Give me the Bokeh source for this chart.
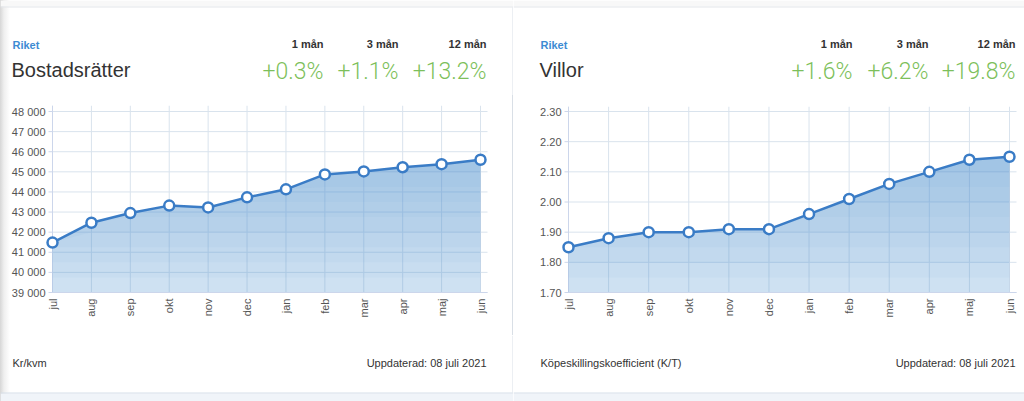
import math
import numpy as np
from bokeh.plotting import figure
from bokeh.layouts import row, column
from bokeh.models import Range1d, FixedTicker
from bokeh.embed import file_html
from bokeh.resources import INLINE
from bokeh.core.properties import value

# ---------------- data ----------------
months = ["jul", "aug", "sep", "okt", "nov", "dec", "jan", "feb", "mar", "apr", "maj", "jun"]
brf_values = [41480, 42470, 42950, 43320, 43230, 43730, 44130, 44870, 45020, 45230, 45380, 45600]
villa_values = [1.85, 1.88, 1.90, 1.90, 1.91, 1.91, 1.96, 2.01, 2.06, 2.10, 2.14, 2.15]
brf_ticks = [39000, 40000, 41000, 42000, 43000, 44000, 45000, 46000, 47000, 48000]
villa_ticks = [1.70, 1.80, 1.90, 2.00, 2.10, 2.20, 2.30]
periods = ["1 mån", "3 mån", "12 mån"]
brf_changes = ["+0.3%", "+1.1%", "+13.2%"]
villa_changes = ["+1.6%", "+6.2%", "+19.8%"]
region = "Riket"
brf_title = "Bostadsrätter"
villa_title = "Villor"
brf_unit = "Kr/kvm"
villa_unit = "Köpeskillingskoefficient (K/T)"
updated = "Uppdaterad: 08 juli 2021"

FONT = "Liberation Sans"
BIG_FONT = "Roboto Light, Liberation Sans"
LINE = "#3a7cc6"
FILL = "#4a8fd0"
GRID = "#d9e3ed"
AXC = "#ccd6eb"
TXT = "#333333"
DIV = "#d9dfe6"
LEFT_SHADE = "linear-gradient(to right, #d6d6d6 0px, #efefef 4px, #ffffff 10px)"

HEAD_H = 95     # page y 0..95 header
CHART_H = 240   # page y 95..335 chart
FOOT_H = 66     # page y 335..401 footer
AXIS_Y = 292    # page y of the x axis line (lowest y tick)
FRAME_BOTTOM = 297


def plain_fig(width, height):
    f = figure(width=width, height=height, x_range=Range1d(0, width), y_range=Range1d(height, 0),
               x_axis_location=None, y_axis_location=None, min_border=0,
               output_backend="svg", toolbar_location=None)
    f.grid.visible = False
    f.outline_line_color = None
    f.background_fill_color = None
    f.border_fill_color = None
    return f


def txt(f, x, y, s, size, color, align="left", style="normal", font=FONT):
    f.text(x=[x], y=[y], text=[s], text_font=value(font), text_font_size=value(size),
           text_color=color, text_align=align, text_baseline="alphabetic",
           text_font_style=style)


def header(width, left_x, cols, title, changes, is_left):
    f = plain_fig(width, HEAD_H)
    f.quad(left=[0], right=[width], top=[0], bottom=[6], fill_color="#f8f8f8", line_color=None)
    f.segment(x0=[0], y0=[6.5], x1=[width], y1=[6.5], line_color="#e3e6ea", line_width=1)
    if is_left:
        f.segment(x0=[width - 0.5], y0=[7], x1=[width - 0.5], y1=[HEAD_H], line_color=DIV, line_width=1)
    txt(f, left_x, 44, region, "11px", "#3d8bd3", style="bold")
    txt(f, left_x - 1, 69, title, "20px", TXT)
    for rx, per, ch in zip(cols, periods, changes):
        txt(f, rx, 43, per, "11px", TXT, align="right", style="bold")
        txt(f, rx, 71, ch, "23px", "#7dbf5b", align="right", font=BIG_FONT)
    return f


def footer(width, left_x, right_x, unit, is_left):
    f = plain_fig(width, FOOT_H)
    f.quad(left=[0], right=[width], top=[58], bottom=[FOOT_H], fill_color="#f0f4f9", line_color=None)
    f.segment(x0=[0], y0=[57.5], x1=[width], y1=[57.5], line_color="#d5dee8", line_width=1)
    if is_left:
        f.segment(x0=[width - 0.5], y0=[0], x1=[width - 0.5], y1=[57], line_color=DIV, line_width=1)
    txt(f, left_x, 27, unit, "11px", TXT)
    txt(f, right_x, 27, updated, "11px", TXT, align="right")
    return f


def chart(values, ticks, tick_labels, g):
    x_idx = list(range(len(values)))
    nx = len(values)
    ppx = (g["x11"] - g["x0"]) / 11.0
    x_start = (g["page_left"] - g["x0"]) / ppx
    x_stop = (g["page_left"] + g["width"] - g["x0"]) / ppx
    x_end = (g["plot_right"] - g["x0"]) / ppx
    ppy = (AXIS_Y - g["y_hi"]) / (ticks[-1] - ticks[0])
    y_start = ticks[0]
    y_lo = ticks[0] - (FRAME_BOTTOM - AXIS_Y) / ppy
    y_end = ticks[0] + (AXIS_Y - g["frame_top"]) / ppy

    p = figure(width=g["width"], height=CHART_H,
               x_range=Range1d(x_start, x_stop), y_range=Range1d(y_lo, y_end),
               y_axis_location=None,
               min_border_left=0, min_border_right=0,
               min_border_top=g["frame_top"] - HEAD_H,
               min_border_bottom=HEAD_H + CHART_H - FRAME_BOTTOM,
               output_backend="svg", toolbar_location=None)
    p.outline_line_color = None
    p.background_fill_color = None
    p.border_fill_color = None
    p.grid.visible = False

    n = len(ticks)
    # grid lines
    p.segment(x0=x_idx, y0=[y_start] * nx, x1=x_idx, y1=[y_end] * nx, line_color=GRID, line_width=1)
    p.segment(x0=[0] * n, y0=ticks, x1=[x_end] * n, y1=ticks, line_color=GRID, line_width=1)
    # axis lines and y ticks
    p.segment(x0=[-4 / ppx] * n, y0=ticks, x1=[0] * n, y1=ticks, line_color=AXC, line_width=1)
    p.segment(x0=[0], y0=[y_start], x1=[0], y1=[y_end], line_color=AXC, line_width=1)

    vals = np.array(values, dtype=float)
    p.varea(x=x_idx, y1=[y_start] * nx, y2=values, fill_color=FILL, fill_alpha=0.27)
    for lv in np.linspace(ticks[0], ticks[-1], 13)[1:]:
        p.varea(x=x_idx, y1=np.minimum(lv, vals), y2=vals, fill_color=FILL, fill_alpha=0.044)

    p.segment(x0=[0], y0=[y_start], x1=[x_end], y1=[y_start], line_color=AXC, line_width=1)

    p.line(x_idx, values, line_color=LINE, line_width=2.5)
    p.scatter(x_idx, values, size=10, fill_color="white", line_color=LINE, line_width=2.5)

    # y tick labels
    p.text(x=[0] * n, y=ticks, text=tick_labels, x_offset=-7, text_align="right",
           text_baseline="middle", text_font=value(FONT), text_font_size=value("11px"),
           text_color="#555555")

    xa = p.xaxis[0]
    xa.ticker = FixedTicker(ticks=x_idx)
    xa.major_label_overrides = {i: m for i, m in enumerate(months)}
    xa.major_label_orientation = math.pi / 2
    xa.major_label_text_font = FONT
    xa.major_label_text_font_size = "11px"
    xa.major_label_text_color = "#555555"
    xa.major_label_standoff = 1
    xa.major_tick_out = 0
    xa.major_tick_in = 0
    xa.minor_tick_out = 0
    xa.minor_tick_in = 0
    xa.axis_line_color = None
    return p


def fmt_space(v):
    return f"{int(round(v)):,}".replace(",", " ")


g_left = dict(page_left=0, width=513, x0=52, x11=480, plot_right=487, frame_top=105, y_hi=111)
g_right = dict(page_left=513, width=511, x0=568, x11=1009, plot_right=1016, frame_top=106, y_hi=111)

h1 = header(513, 12, [323, 398, 486], brf_title, brf_changes, True)
c1 = chart(brf_values, brf_ticks, [fmt_space(t) for t in brf_ticks], g_left)
f1 = footer(513, 12, 486, brf_unit, True)

h2 = header(511, 27, [339, 415, 502], villa_title, villa_changes, False)
c2 = chart(villa_values, villa_ticks, [f"{t:.2f}" for t in villa_ticks], g_right)
f2 = footer(511, 27, 502, villa_unit, False)

for f in (h1, c1, f1):
    f.styles = {"background": LEFT_SHADE}
c2.styles = {"box-shadow": "-1px 0 0 0 " + DIV}

layout = row(column(h1, c1, f1), column(h2, c2, f2))

open("out.html", "w").write(file_html(layout, INLINE))
